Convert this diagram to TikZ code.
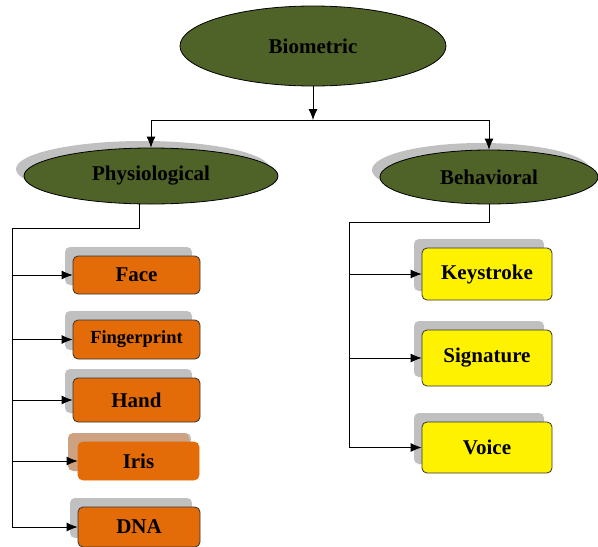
\documentclass[tikz,border=0pt]{standalone}
\usepackage{fontspec}
\setmainfont{Liberation Serif}
\usetikzlibrary{shapes,arrows.meta,positioning,calc,shadows}
\definecolor{olive}{HTML}{4F6228}
\definecolor{orangebox}{HTML}{E36C09}
\definecolor{shadowgray}{HTML}{C0C0C0}
\definecolor{tanshadow}{HTML}{CDA282}
\tikzset{
root/.style = {draw, fill=olive, ellipse, minimum width=266, minimum height=80, font=\bfseries\fontsize{21}{24}\selectfont},
branch/.style = {draw, fill=olive, ellipse, font=\bfseries\fontsize{21}{24}\selectfont,
  general shadow={fill=shadowgray, shadow xshift=-8pt, shadow yshift=7pt}},
obox/.style = {draw=black!80, fill=orangebox, rectangle, rounded corners=5, minimum width=127, minimum height=38, font=\bfseries\fontsize{21}{24}\selectfont,
  general shadow={fill=shadowgray, shadow xshift=-8pt, shadow yshift=9pt}},
ybox/.style = {draw=black!80, fill=yellow, rectangle, rounded corners=5, minimum width=130, font=\bfseries\fontsize{21}{24}\selectfont,
  general shadow={fill=shadowgray, shadow xshift=-8pt, shadow yshift=9pt}}
}
\begin{document}
\begin{tikzpicture}[x=1pt, y=-1pt, >={Latex[length=11pt,width=9pt]}, inner sep=0pt, line width=0.8pt]
    \useasboundingbox (0,0) rectangle (598,547);
    \node [root] (bio) at (313,46) {Biometric};
    \node [branch, minimum width=254, minimum height=56] (phys) at (151,176) {Physiological};
    \node [branch, minimum width=218, minimum height=54] (beh) at (489,177) {Behavioral};
    % physiological boxes
    \node [obox] (face) at (136.5,275) {Face};
    \node [obox, minimum height=39, font=\bfseries\fontsize{18.5}{20}\selectfont] (finger) at (136.5,339.5) {Fingerprint};
    \node [obox, minimum height=44] (hand) at (136.5,400) {Hand};
    \node [obox, draw=orangebox, minimum width=121, general shadow={fill=tanshadow, shadow xshift=-10pt, shadow yshift=9pt}] (iris) at (138.5,461) {Iris};
    \node [obox, minimum width=122, minimum height=40] (dna) at (139,527) {DNA};
    % behavioral boxes
    \node [ybox, minimum height=52] (key) at (487,274) {Keystroke};
    \node [ybox, minimum height=56] (sig) at (487,358) {Signature};
    \node [ybox, minimum height=51] (voice) at (487,447.5) {Voice};

    \coordinate (bus) at (313,120);
    \draw [->] (bio) -- (bus);
    \draw [->] (bus) -| (phys);
    \draw [->] (bus) -| (beh);

    \coordinate (ptop) at (139,228);
    \coordinate (pleft) at (12,228);
    \draw (ptop |- phys.south) -- (ptop) -- (pleft) -- (pleft |- dna);
    \foreach \n in {face,finger,hand,iris,dna}
      \draw [->] (pleft |- \n) -- (\n);

    \coordinate (btop) at (489,222);
    \coordinate (bleft) at (349,222);
    \draw (beh) -- (btop) -- (bleft) -- (bleft |- voice);
    \foreach \n in {key,sig,voice}
      \draw [->] (bleft |- \n) -- (\n);
\end{tikzpicture}
\end{document}
